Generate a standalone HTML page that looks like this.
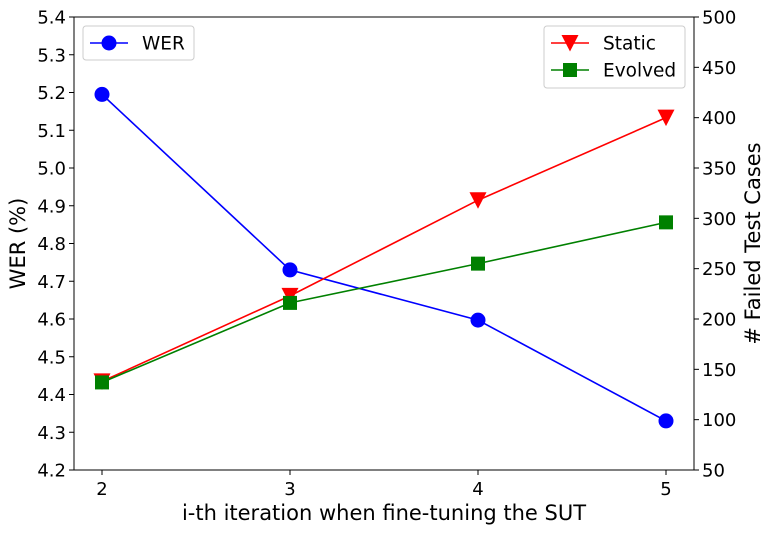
<!DOCTYPE html>
<html><head><meta charset="utf-8"><style>
body{margin:0;background:#fff;}
svg{display:block;font-family:"DejaVu Sans","Liberation Sans",sans-serif;}
</style></head><body>
<svg id="c" width="773" height="533"></svg>
<script>
const categories=[2,3,4,5];
const werValues=[5.195,4.73,4.597,4.33];
const staticValues=[138,223,318,400];
const evolvedValues=[137,216,255,296];
const leftTicks=[4.2,4.3,4.4,4.5,4.6,4.7,4.8,4.9,5.0,5.1,5.2,5.3,5.4];
const rightTicks=[50,100,150,200,250,300,350,400,450,500];

const L=74,R=694,T=17,B=470;
const NS="http://www.w3.org/2000/svg";
const svg=document.getElementById('c');
const x=v=>102+(v-2)*188;
const yl=v=>B-(v-4.2)/1.2*(B-T);
const yr=v=>B-(v-50)/450*(B-T);
function el(t,a,p){const e=document.createElementNS(NS,t);for(const k in a)e.setAttribute(k,a[k]);(p||svg).appendChild(e);return e;}
function txt(s,a){const e=el('text',a);e.textContent=s;return e;}

const frame=el('rect',{x:L,y:T,width:R-L,height:B-T,fill:'none',stroke:'#000','stroke-width':1});



categories.forEach(c=>{
  el('line',{x1:x(c),x2:x(c),y1:B,y2:B+5,stroke:'#000'});
  const t=txt(String(c),{x:x(c),y:B+25,'text-anchor':'middle','font-size':18});
  
  
});
leftTicks.forEach(v=>{
  el('line',{x1:L-5,x2:L,y1:yl(v),y2:yl(v),stroke:'#000'});
  const t=txt(v.toFixed(1),{x:L-8,y:yl(v)+6.5,'text-anchor':'end','font-size':18});
  
  
});
rightTicks.forEach(v=>{
  el('line',{x1:R,x2:R+5,y1:yr(v),y2:yr(v),stroke:'#000'});
  const t=txt(String(v),{x:R+8,y:yr(v)+6.5,'text-anchor':'start','font-size':18});
  
  
});
let t1=txt('i-th iteration when fine-tuning the SUT',{x:(L+R)/2,y:520,'text-anchor':'middle','font-size':21});

let t2=txt('WER (%)',{x:0,y:0,'text-anchor':'middle','font-size':21,transform:`translate(25,${(T+B)/2}) rotate(-90)`});

let t3=txt('# Failed Test Cases',{x:0,y:0,'text-anchor':'middle','font-size':21,transform:`translate(760,${(T+B)/2}) rotate(-90)`});


function marker(kind,cx,cy,color){
  if(kind==='o')return el('circle',{cx,cy,r:7.5,fill:color});
  if(kind==='s')return el('rect',{x:cx-7,y:cy-7,width:14,height:14,fill:color});
  return el('polygon',{points:`${cx-8.5},${cy-8} ${cx+8.5},${cy-8} ${cx},${cy+8.5}`,fill:color});
}
function series(vals,yf,color,kind,name){
  const pl=el('polyline',{points:vals.map((v,i)=>x(categories[i])+','+yf(v)).join(' '),fill:'none',stroke:color,'stroke-width':1.6});
  
  
  vals.forEach((v,i)=>{
    const m=marker(kind,x(categories[i]),yf(v),color);
    
    
  });
}
series(werValues,yl,'#0000ff','o','wer');
series(staticValues,yr,'#ff0000','v','static');
series(evolvedValues,yr,'#008000','s','evolved');

function legendBox(xx,yy,w,h,name){const r=el('rect',{x:xx,y:yy,width:w,height:h,rx:3,fill:'#fff',stroke:'#ccc'});}
legendBox(83,26,111,34,'left-legend');
el('line',{x1:90,x2:128,y1:43,y2:43,stroke:'#0000ff','stroke-width':1.6});
marker('o',109,43,'#0000ff');
let l1=txt('WER',{x:142,y:49.5,'font-size':18.5});
legendBox(544,26,141,62,'right-legend');
el('line',{x1:551,x2:589,y1:43,y2:43,stroke:'#ff0000','stroke-width':1.6});
marker('v',570,43,'#ff0000');
let l2=txt('Static',{x:603,y:49.5,'font-size':18.5});
el('line',{x1:551,x2:589,y1:70,y2:70,stroke:'#008000','stroke-width':1.6});
marker('s',570,70,'#008000');
let l3=txt('Evolved',{x:603,y:76.5,'font-size':18.5});
</script>
</body></html>
